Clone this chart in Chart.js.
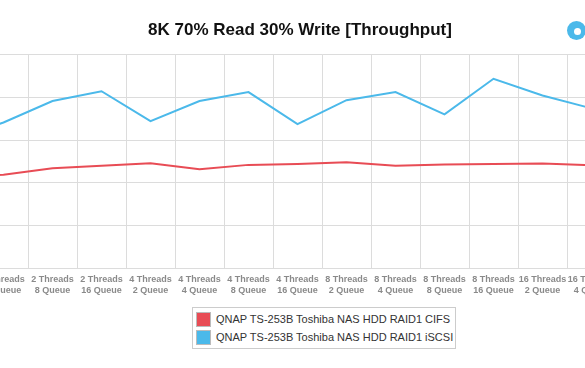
<!DOCTYPE html>
<html>
<head>
<meta charset="utf-8">
<script src="https://cdn.jsdelivr.net/npm/chart.js@4"></script>
<style>
  html, body { margin: 0; padding: 0; background: #fff; overflow: hidden; width: 585px; height: 368px; }
  #wrap { position: absolute; left: -130px; top: 0; width: 860px; height: 305px; }
  #legend { position: absolute; left: 192px; top: 307px; border: 1px solid #ccc; padding: 2px 2px 2px 3px;
    font: 11px "Liberation Sans", Arial, sans-serif; color: #333; }
  #legend div { height: 18px; line-height: 18px; white-space: nowrap; }
  #legend span { display: inline-block; width: 15px; height: 15px; border: 1px solid #bbb; vertical-align: -4px; margin-right: 5px; box-sizing: border-box; }
  #logo { position: absolute; left: 567px; top: 21px; width: 19px; height: 19px; border-radius: 50%; background: #4bb9ea; }
  #logo:after { content: ""; position: absolute; left: 7px; top: 7px; width: 7px; height: 7px; border-radius: 50%; background: #fff; }
</style>
</head>
<body>
<div id="wrap"><canvas id="c"></canvas></div>
<div id="legend"></div>
<div id="logo"></div>
<script>
const threads = [2, 2, 2, 2, 4, 4, 4, 4, 8, 8, 8, 8, 16, 16, 16, 16]
const queues = [2, 4, 8, 16, 2, 4, 8, 16, 2, 4, 8, 16, 2, 4, 8, 16]
const cifs = [215, 219, 234, 240, 246, 232, 242, 244, 248, 240, 243, 244, 245, 241, 242, 240]
const iscsi = [302, 341, 391, 414, 344, 391, 412, 337, 393, 412, 360, 443, 404, 374, 380, 390]
const seriesNames = ["QNAP TS-253B Toshiba NAS HDD RAID1 CIFS", "QNAP TS-253B Toshiba NAS HDD RAID1 iSCSI"]
const seriesColors = ["#e84c55", "#4bb9ea"]

//etichette su due righe
const labels = threads.map((t, i) => [t + " Threads", queues[i] + " Queue"])

const ctx = document.getElementById("c")
let chart = new Chart(ctx, {
  type: "line",
  data: {
    labels: labels,
    datasets: [
      { label: seriesNames[0], data: cifs, borderColor: seriesColors[0], backgroundColor: seriesColors[0] },
      { label: seriesNames[1], data: iscsi, borderColor: seriesColors[1], backgroundColor: seriesColors[1] },
    ],
  },
  options: {
    responsive: true,
    maintainAspectRatio: false,
    animation: false,
    layout: { padding: { left: 16, right: 16, top: 16, bottom: 4 } },
    elements: {
      line: { borderWidth: 2, tension: 0 },
      point: { radius: 0 },
    },
    plugins: {
      legend: { display: false },
      tooltip: { enabled: false },
      title: {
        display: true,
        text: "8K 70% Read 30% Write [Throughput]",
        color: "#111",
        font: { family: "'Liberation Sans', Arial, sans-serif", size: 17, weight: "bold" },
        padding: { top: 4, bottom: 14 },
      },
    },
    scales: {
      x: {
        offset: true,
        grid: { color: "#dcdcdc", offset: true, drawTicks: false },
        border: { color: "#dcdcdc" },
        ticks: {
          color: "#8a8a8a",
          maxRotation: 0,
          autoSkip: false,
          padding: 5,
          font: { family: "'Liberation Sans', Arial, sans-serif", size: 9, weight: "bold", lineHeight: 1.25 },
        },
      },
      y: {
        min: 0,
        max: 500,
        ticks: { stepSize: 100, color: "#8a8a8a", font: { size: 10 } },
        grid: { color: "#dcdcdc", drawTicks: false },
        border: { color: "#dcdcdc" },
        afterFit(scale) { scale.width = 44 },
      },
    },
  },
})

//legenda html
document.getElementById("legend").innerHTML = seriesNames
  .map((n, i) => '<div><span style="background:' + seriesColors[i] + '"></span>' + n + "</div>")
  .join("")
</script>
</body>
</html>
